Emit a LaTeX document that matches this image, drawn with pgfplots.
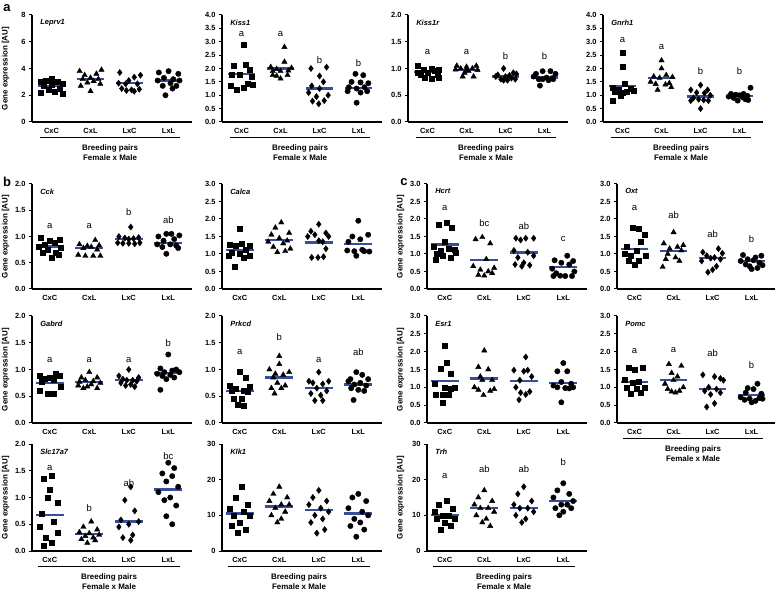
\documentclass[border=0pt]{standalone}
\usepackage{pgfplots}
\pgfplotsset{compat=1.18}
\usepackage{fontspec}
\setmainfont{Liberation Sans}
\definecolor{meanblue}{RGB}{56,78,152}
\pgfplotsset{
  gp/.style={
    scale only axis, width=160bp, anchor=south west,
    axis x line*=bottom, axis y line*=left,
    axis line style={line width=1.2pt},
    xmin=-0.45, xmax=3.6, ymin=0,
    xtick={0,1,2,3}, xticklabels={CxC,CxL,LxC,LxL},
    xtick style={draw=none},
    ytick style={line width=1pt, black},
    tick align=outside, major tick length=3bp,
    tick label style={font=\bfseries\fontsize{7.5}{8}\selectfont},
    /pgf/number format/assume math mode=true,
    yticklabel style={/pgf/number format/.cd, fixed, fixed zerofill, precision=1},
    ylabel style={at={(axis description cs:-0.165,0.5)}, anchor=center, font=\bfseries\fontsize{8}{9}\selectfont},
    clip=false,
  },
  sq/.style={only marks, mark=square*, mark size=2.5bp, black},
  tri/.style={only marks, mark=triangle*, mark size=3.1bp, black},
  dia/.style={only marks, mark=diamond*, mark size=3.1bp, black},
  cir/.style={only marks, mark=*, mark size=2.7bp, black},
  mline/.style={no markers, line width=2.2bp, meanblue},
}
\newcommand\mA[1]{\addplot[mline] coordinates {(-0.35,#1) (0.35,#1)};}
\newcommand\mB[1]{\addplot[mline] coordinates {(0.65,#1) (1.35,#1)};}
\newcommand\mC[1]{\addplot[mline] coordinates {(1.65,#1) (2.35,#1)};}
\newcommand\mD[1]{\addplot[mline] coordinates {(2.65,#1) (3.35,#1)};}
\newcommand\lt[3]{\node[font=\fontsize{9.5}{10}\selectfont] at (axis cs:#1,#2) {#3};}
\newcommand\gn[1]{\node[anchor=west, font=\bfseries\itshape\fontsize{7.5}{8}\selectfont] at (rel axis cs:0.03,0.93) {#1};}
\newcommand\bp{%
  \draw[line width=1pt] ([yshift=-15.5bp]axis cs:-0.3,0) -- ([yshift=-15.5bp]axis cs:3.3,0);
  \node[font=\bfseries\fontsize{8}{10.5}\selectfont, align=center, anchor=north] at ([yshift=-19bp]axis cs:1.5,0) {Breeding pairs\\Female x Male};
}
\begin{document}
\begin{tikzpicture}
\useasboundingbox (0,0) rectangle (778bp,592bp);
\node[font=\bfseries\fontsize{13}{13}\selectfont] at (7bp,584bp) {a};
\node[font=\bfseries\fontsize{13}{13}\selectfont] at (7bp,410bp) {b};
\node[font=\bfseries\fontsize{13}{13}\selectfont] at (404bp,410bp) {c};

% ---------- Row a ----------
\begin{axis}[gp, at={(32bp,470bp)}, height=107bp, xmin=-0.5, ymax=8, ytick={0,2,4,6,8},
  yticklabel style={/pgf/number format/precision=0}, ylabel={Gene expression [AU]}]
\addplot[sq] coordinates {(0,3.2)(-0.15,3.1)(0.15,3.0)(-0.28,3.05)(0.28,2.9)(0,2.8)(-0.2,2.75)(0.2,2.5)(-0.08,2.4)(0.08,2.3)(-0.28,2.2)(0.28,2.1)};
\addplot[tri] coordinates {(1.28,3.9)(0.72,3.8)(1.15,3.6)(0.85,3.5)(1,3.3)(0.8,3.2)(1.2,3.2)(1.08,3.05)(0.92,2.95)(1.25,2.85)(0.75,2.7)(1,2.3)};
\addplot[dia] coordinates {(1.75,3.7)(2.28,3.5)(2.12,3.35)(1.98,3.1)(1.72,2.9)(2.2,2.85)(1.9,2.85)(1.8,2.5)(2.05,2.4)(2.25,2.45)(1.92,2.35)(2.12,2.3)};
\addplot[cir] coordinates {(2.75,3.7)(3.0,3.8)(3.25,3.6)(2.88,3.3)(3.12,3.2)(3.28,3.1)(2.72,3.1)(3.05,2.9)(2.85,2.7)(3.2,2.7)(3.1,2.5)(2.92,2.0)};
\mA{2.7}\mB{3.2}\mC{2.9}\mD{3.1}
\gn{Leprv1}\bp
\end{axis}

\begin{axis}[gp, at={(222bp,470bp)}, height=107bp, xmin=-0.5, ymax=4, ytick={0,0.5,1,1.5,2,2.5,3,3.5,4}]
\addplot[sq] coordinates {(0.05,2.9)(-0.2,2.1)(0.1,2.15)(0.2,1.95)(-0.05,1.75)(-0.25,1.75)(0.25,1.7)(0.15,1.45)(-0.28,1.35)(0.05,1.3)(-0.12,1.22)(0.28,1.4)};
\addplot[tri] coordinates {(1.1,2.8)(1.1,2.25)(0.75,2.05)(1.28,2.02)(0.9,1.98)(1.2,1.92)(0.8,1.9)(1.0,1.9)(0.8,1.75)(1.18,1.75)(1.0,1.62)(0.9,1.72)};
\addplot[dia] coordinates {(1.78,2.0)(2.18,2.05)(2.0,1.72)(2.1,1.5)(1.8,1.35)(2.0,1.25)(1.72,1.1)(2.22,1.0)(1.92,0.95)(2.12,0.8)(1.82,0.78)(1.98,0.68)};
\addplot[cir] coordinates {(2.92,1.8)(3.12,1.75)(2.82,1.5)(3.05,1.48)(3.25,1.45)(2.75,1.3)(3.15,1.3)(2.95,1.25)(2.72,1.15)(3.22,1.15)(3.05,1.1)(2.95,0.72)};
\mA{1.78}\mB{2.0}\mC{1.25}\mD{1.28}
\lt{0}{3.3}{a}\lt{1}{3.3}{a}\lt{2}{2.3}{b}\lt{3}{2.2}{b}
\gn{Kiss1}\bp
\end{axis}

\begin{axis}[gp, at={(408bp,470bp)}, height=107bp, xmin=-0.5, ymax=2, ytick={0,0.5,1,1.5,2}]
\addplot[sq] coordinates {(-0.25,1.05)(0.1,1.0)(-0.1,0.98)(0.28,0.97)(0.18,0.95)(-0.25,0.93)(0,0.92)(-0.18,0.88)(0.25,0.88)(-0.08,0.82)(0.1,0.8)(0.28,0.83)};
\addplot[tri] coordinates {(0.75,1.05)(1.0,1.03)(1.25,1.05)(0.85,1.0)(1.15,1.0)(0.72,0.98)(1.28,0.97)(1.05,0.95)(0.95,0.92)(0.9,0.85)(1.18,0.85)(1.0,0.97)};
\addplot[dia] coordinates {(1.95,1.0)(2.2,0.92)(2.28,0.9)(1.8,0.88)(2.1,0.87)(2.0,0.85)(1.75,0.85)(2.15,0.82)(1.88,0.8)(2.05,0.78)(1.95,0.78)(2.25,0.8)};
\addplot[cir] coordinates {(2.95,0.95)(3.15,0.95)(2.78,0.9)(3.28,0.9)(2.72,0.85)(3.05,0.83)(3.2,0.82)(2.85,0.8)(3.1,0.78)(2.95,0.8)(2.88,0.68)(3.22,0.8)};
\mA{0.93}\mB{0.97}\mC{0.85}\mD{0.83}
\lt{0}{1.31}{a}\lt{1}{1.31}{a}\lt{2}{1.23}{b}\lt{3}{1.23}{b}
\gn{Kiss1r}\bp
\end{axis}

\begin{axis}[gp, at={(603bp,470bp)}, height=107bp, xmin=-0.5, ymax=4, ytick={0,0.5,1,1.5,2,2.5,3,3.5,4}]
\addplot[sq] coordinates {(0,2.6)(0,2.05)(0.05,1.42)(-0.25,1.3)(0.2,1.25)(-0.1,1.2)(0.1,1.15)(-0.2,1.12)(0.28,1.18)(0.0,1.1)(-0.05,1.0)(-0.25,0.8)};
\addplot[tri] coordinates {(1.0,2.3)(1.0,2.0)(1.12,1.75)(0.8,1.7)(1.28,1.68)(0.95,1.65)(0.72,1.5)(1.2,1.45)(0.85,1.42)(1.1,1.4)(1.25,1.3)(0.9,1.2)};
\addplot[dia] coordinates {(2.0,1.38)(1.75,1.2)(2.18,1.2)(1.9,1.1)(2.1,1.08)(2.25,1.0)(1.82,0.9)(1.95,0.85)(2.08,0.82)(1.75,0.8)(2.2,0.8)(2.0,0.5)};
\addplot[cir] coordinates {(3.28,1.28)(2.78,1.05)(3.1,1.05)(2.9,1.02)(3.0,1.0)(3.2,0.98)(2.72,0.95)(3.08,0.92)(2.85,0.9)(3.15,0.85)(2.95,0.8)(3.22,0.82)};
\mA{1.35}\mB{1.63}\mC{0.95}\mD{0.97}
\lt{0}{3.07}{a}\lt{1}{2.82}{a}\lt{2}{1.9}{b}\lt{3}{1.9}{b}
\gn{Gnrh1}\bp
\end{axis}

% ---------- Row b1 ----------
\begin{axis}[gp, at={(32bp,303bp)}, height=105bp, ymax=2, ytick={0,0.5,1,1.5,2}, ylabel={Gene expression [AU]}]
\addplot[sq] coordinates {(-0.22,0.97)(0.25,0.93)(0.0,0.92)(0.12,0.88)(-0.12,0.85)(-0.28,0.8)(0.28,0.78)(-0.05,0.75)(0.15,0.7)(0.22,0.65)(-0.18,0.7)(0.05,0.6)};
\addplot[tri] coordinates {(1.15,0.93)(0.75,0.85)(1.25,0.83)(0.95,0.82)(1.05,0.8)(0.85,0.78)(1.2,0.75)(0.72,0.65)(0.9,0.63)(1.1,0.63)(1.28,0.63)};
\addplot[dia] coordinates {(2.05,1.18)(1.75,1.0)(2.25,0.98)(1.9,0.97)(2.12,0.96)(2.0,0.95)(1.72,0.88)(1.85,0.87)(2.0,0.87)(2.15,0.86)(2.28,0.88)};
\addplot[cir] coordinates {(2.95,1.05)(3.08,1.05)(3.28,1.02)(2.75,1.0)(3.15,0.95)(2.88,0.92)(2.72,0.85)(3.05,0.85)(3.2,0.83)(2.85,0.8)(3.25,0.78)(2.95,0.67)};
\mA{0.81}\mB{0.78}\mC{0.95}\mD{0.87}
\lt{0}{1.2}{a}\lt{1}{1.2}{a}\lt{2}{1.46}{b}\lt{3}{1.32}{ab}
\gn{Cck}
\end{axis}

\begin{axis}[gp, at={(222bp,303bp)}, height=105bp, ymax=3, ytick={0,0.5,1,1.5,2,2.5,3}]
\addplot[sq] coordinates {(0.0,1.72)(-0.25,1.27)(0.05,1.3)(0.25,1.25)(-0.1,1.25)(0.15,1.12)(-0.2,1.05)(0.0,1.0)(-0.28,0.95)(0.25,0.95)(0.1,0.88)(-0.12,0.65)};
\addplot[tri] coordinates {(1.05,1.9)(0.9,1.75)(1.25,1.6)(0.8,1.55)(1.0,1.45)(1.2,1.38)(0.72,1.35)(1.1,1.3)(0.85,1.2)(1.28,1.15)(0.95,1.05)(1.15,1.08)};
\addplot[dia] coordinates {(2.0,1.85)(1.8,1.65)(2.18,1.6)(1.9,1.55)(2.25,1.5)(1.72,1.5)(2.1,1.35)(2.0,1.38)(2.18,1.15)(1.82,0.9)(1.98,0.9)(2.12,0.92)};
\addplot[cir] coordinates {(3.0,1.95)(3.25,1.55)(2.85,1.5)(3.05,1.42)(2.75,1.35)(2.72,1.1)(2.9,1.08)(3.15,1.08)(3.28,1.07)(3.1,1.12)(2.95,0.95)};
\mA{1.12}\mB{1.4}\mC{1.33}\mD{1.28}
\gn{Calca}
\end{axis}

\begin{axis}[gp, at={(427bp,303bp)}, height=105bp, ymax=3, ytick={0,0.5,1,1.5,2,2.5,3}, ylabel={Gene expression [AU]}]
\addplot[sq] coordinates {(0.05,1.9)(-0.15,1.85)(0.18,1.75)(0.0,1.35)(-0.28,1.2)(0.1,1.15)(0.25,1.12)(-0.1,1.1)(0.28,1.05)(-0.2,1.0)(-0.05,0.95)(0.15,0.88)(-0.22,0.85)};
\addplot[tri] coordinates {(0.95,1.48)(0.78,1.42)(1.15,1.3)(1.05,0.85)(0.72,0.65)(1.25,0.6)(0.9,0.55)(1.1,0.5)(1.2,0.45)(0.85,0.4)(1.0,0.38)};
\addplot[dia] coordinates {(1.8,1.45)(2.05,1.45)(2.25,1.45)(1.92,1.4)(1.75,1.1)(2.1,1.05)(2.25,0.95)(1.85,0.9)(2.0,0.75)(1.78,0.7)(2.15,0.68)(1.95,0.65)};
\addplot[cir] coordinates {(3.1,0.95)(2.78,0.82)(3.25,0.8)(2.95,0.75)(3.15,0.7)(2.72,0.58)(3.28,0.5)(2.82,0.45)(2.92,0.38)(3.05,0.37)(3.22,0.37)(2.75,0.37)};
\mA{1.27}\mB{0.82}\mC{1.04}\mD{0.62}
\lt{0}{2.3}{a}\lt{1}{1.88}{bc}\lt{2}{1.8}{ab}\lt{3}{1.42}{c}
\gn{Hcrt}
\end{axis}

\begin{axis}[gp, at={(617bp,303bp)}, width=158bp, height=105bp, ymax=3, ytick={0,0.5,1,1.5,2,2.5,3}]
\addplot[sq] coordinates {(-0.05,1.75)(0.1,1.72)(0.25,1.55)(0.15,1.35)(-0.2,1.2)(0.05,1.1)(-0.25,1.0)(0.28,0.95)(-0.1,0.95)(0.1,0.8)(-0.15,0.8)(0.0,0.7)};
\addplot[tri] coordinates {(1.0,1.62)(0.75,1.3)(1.25,1.25)(1.1,1.2)(0.9,1.15)(1.2,1.1)(0.85,1.0)(1.05,0.9)(0.8,0.85)(1.15,0.8)(0.72,0.63)};
\addplot[dia] coordinates {(2.15,1.15)(1.75,1.05)(2.25,1.02)(1.85,0.95)(2.05,0.9)(1.95,0.88)(2.2,0.85)(1.72,0.8)(2.1,0.65)(2.0,0.55)(1.88,0.48)};
\addplot[cir] coordinates {(2.78,0.97)(3.25,0.95)(3.1,0.9)(2.9,0.85)(3.05,0.82)(2.72,0.8)(3.2,0.75)(2.85,0.7)(3.28,0.68)(2.95,0.65)(3.15,0.6)(3.0,0.57)};
\mA{1.15}\mB{1.08}\mC{0.88}\mD{0.8}
\lt{0}{2.3}{a}\lt{1}{2.1}{ab}\lt{2}{1.56}{ab}\lt{3}{1.42}{b}
\gn{Oxt}
\end{axis}

% ---------- Row b2 ----------
\begin{axis}[gp, at={(32bp,169bp)}, height=107bp, ymax=2, ytick={0,0.5,1,1.5,2}, ylabel={Gene expression [AU]}]
\addplot[sq] coordinates {(0.15,0.93)(-0.25,0.88)(0.25,0.88)(0.0,0.85)(-0.12,0.82)(0.1,0.8)(-0.2,0.78)(0.28,0.68)(-0.25,0.6)(-0.05,0.55)(0.1,0.55)};
\addplot[tri] coordinates {(1.0,0.95)(0.8,0.85)(1.2,0.85)(0.9,0.8)(1.1,0.78)(0.75,0.77)(1.28,0.75)(1.05,0.72)(0.72,0.7)(0.95,0.68)(1.2,0.65)(0.85,0.65)};
\addplot[dia] coordinates {(2.0,1.0)(1.75,0.88)(2.25,0.85)(1.85,0.82)(2.1,0.8)(1.95,0.8)(2.2,0.78)(1.8,0.75)(2.05,0.72)(1.92,0.7)(2.15,0.68)};
\addplot[cir] coordinates {(3.0,1.28)(2.8,1.02)(3.2,1.0)(3.1,0.98)(2.9,0.95)(3.28,0.95)(2.72,0.92)(3.05,0.9)(2.85,0.88)(3.15,0.85)(2.95,0.82)(2.8,0.62)};
\mA{0.75}\mB{0.76}\mC{0.8}\mD{0.93}
\lt{0}{1.17}{a}\lt{1}{1.17}{a}\lt{2}{1.17}{a}\lt{3}{1.5}{b}
\gn{Gabrd}
\end{axis}

\begin{axis}[gp, at={(222bp,169bp)}, height=107bp, ymax=2, ytick={0,0.5,1,1.5,2}]
\addplot[sq] coordinates {(0.0,0.95)(0.15,0.85)(-0.25,0.7)(0.25,0.68)(-0.1,0.65)(0.1,0.6)(-0.2,0.6)(0.2,0.58)(-0.15,0.45)(0.05,0.45)(-0.05,0.35)(0.1,0.33)};
\addplot[tri] coordinates {(1.0,1.25)(1.0,1.1)(0.75,1.0)(1.25,0.95)(0.9,0.92)(1.1,0.9)(0.85,0.85)(0.95,0.75)(1.15,0.7)(0.8,0.65)(1.05,0.65)(0.88,0.55)};
\addplot[dia] coordinates {(2.0,0.95)(1.75,0.78)(2.25,0.78)(1.85,0.75)(2.1,0.73)(1.95,0.65)(2.2,0.6)(1.8,0.55)(2.05,0.52)(1.9,0.42)(2.1,0.42)};
\addplot[cir] coordinates {(2.95,0.95)(3.1,0.9)(2.8,0.82)(3.25,0.82)(2.75,0.78)(3.05,0.75)(2.9,0.72)(3.2,0.7)(2.82,0.65)(3.0,0.62)(3.15,0.6)(2.88,0.43)};
\mA{0.6}\mB{0.85}\mC{0.65}\mD{0.72}
\lt{0}{1.33}{a}\lt{1}{1.6}{b}\lt{2}{1.17}{a}\lt{3}{1.33}{ab}
\gn{Prkcd}
\end{axis}

\begin{axis}[gp, at={(427bp,169bp)}, height=107bp, ymax=3, ytick={0,0.5,1,1.5,2,2.5,3}, ylabel={Gene expression [AU]}]
\addplot[sq] coordinates {(0.0,2.18)(0.05,1.68)(-0.1,1.52)(0.15,1.38)(-0.25,1.1)(0.0,1.0)(0.25,0.98)(0.15,0.95)(-0.22,0.8)(-0.05,0.78)(0.1,0.78)(-0.05,0.58)};
\addplot[tri] coordinates {(1.0,2.03)(0.85,1.57)(1.1,1.5)(0.9,1.3)(1.2,1.2)(0.95,1.2)(0.75,1.0)(1.25,0.95)(0.85,0.93)(1.15,0.9)(0.98,0.78)};
\addplot[dia] coordinates {(2.05,1.85)(1.75,1.48)(2.0,1.45)(2.1,1.48)(2.2,1.3)(1.9,1.2)(1.8,1.0)(2.15,0.88)(1.92,0.85)(2.05,0.8)(1.88,0.65)};
\addplot[cir] coordinates {(3.0,1.68)(2.85,1.45)(3.1,1.45)(2.95,1.15)(3.2,1.1)(2.75,1.05)(3.25,1.0)(2.85,1.0)(3.05,0.98)(3.15,0.97)(2.95,0.58)};
\mA{1.18}\mB{1.25}\mC{1.17}\mD{1.12}
\gn{Esr1}
\end{axis}

\begin{axis}[gp, at={(617bp,169bp)}, width=158bp, height=107bp, ymax=3, ytick={0,0.5,1,1.5,2,2.5,3}]
\addplot[sq] coordinates {(-0.15,1.55)(0.0,1.5)(0.2,1.55)(-0.25,1.2)(0.1,1.15)(-0.05,1.12)(0.25,1.0)(-0.2,1.0)(0.05,0.95)(0.15,0.85)(-0.1,0.82)};
\addplot[tri] coordinates {(0.88,1.65)(1.2,1.6)(0.95,1.4)(1.1,1.3)(1.0,1.2)(0.78,1.1)(1.25,1.0)(0.85,0.95)(1.15,0.9)(0.95,0.88)(1.05,0.85)};
\addplot[dia] coordinates {(1.75,1.35)(2.05,1.3)(2.2,1.25)(2.28,1.2)(1.9,1.0)(2.1,0.95)(1.8,0.9)(2.2,0.85)(1.95,0.8)(2.05,0.55)(1.85,0.45)};
\addplot[cir] coordinates {(3.15,1.1)(2.9,0.98)(3.05,0.95)(2.85,0.85)(3.25,0.82)(2.72,0.72)(3.2,0.7)(2.95,0.68)(3.28,0.68)(2.82,0.65)(3.1,0.62)(3.0,0.58)};
\mA{1.15}\mB{1.2}\mC{0.96}\mD{0.78}
\lt{0}{2.03}{a}\lt{1}{2.05}{a}\lt{2}{1.95}{ab}\lt{3}{1.62}{b}
\gn{Pomc}\bp
\end{axis}

% ---------- Row b3 ----------
\begin{axis}[gp, at={(32bp,41bp)}, height=107bp, ymax=2, ytick={0,0.5,1,1.5,2}, ylabel={Gene expression [AU]}]
\addplot[sq] coordinates {(0.05,1.4)(-0.15,1.35)(0.0,1.15)(-0.05,1.0)(0.2,0.9)(-0.2,0.7)(0.1,0.55)(-0.25,0.45)(0.2,0.35)(-0.1,0.25)(0.05,0.15)(-0.15,0.1)};
\addplot[tri] coordinates {(1.05,0.55)(0.85,0.45)(1.2,0.4)(0.75,0.35)(1.0,0.33)(1.25,0.3)(0.9,0.28)(1.1,0.25)(0.8,0.22)(1.15,0.2)(0.95,0.15)};
\addplot[dia] coordinates {(2.05,1.2)(1.9,0.95)(2.15,0.75)(1.8,0.58)(2.25,0.55)(2.0,0.5)(1.75,0.45)(2.1,0.3)(1.85,0.25)(2.05,0.2)};
\addplot[cir] coordinates {(3.0,1.65)(3.15,1.55)(2.85,1.45)(3.1,1.4)(2.95,1.3)(3.25,1.2)(2.75,1.1)(3.05,1.0)(2.9,0.95)(3.2,0.85)(2.95,0.65)(3.1,0.5)};
\mA{0.68}\mB{0.32}\mC{0.55}\mD{1.15}
\lt{0}{1.55}{a}\lt{1}{0.8}{b}\lt{2}{1.27}{ab}\lt{3}{1.78}{bc}
\gn{Slc17a7}\bp
\end{axis}

\begin{axis}[gp, at={(222bp,41bp)}, height=107bp, ymax=30, ytick={0,10,20,30},
  yticklabel style={/pgf/number format/precision=0}]
\addplot[sq] coordinates {(0.05,18)(-0.1,15)(0.2,13)(-0.25,12)(0.1,11)(0.25,10)(-0.15,10)(0.0,8)(-0.2,7)(0.15,6)(-0.05,5)};
\addplot[tri] coordinates {(1.0,18)(0.85,16)(1.2,15)(0.75,14)(1.05,13)(1.25,13)(0.9,12)(1.15,11)(0.8,10)(1.05,9)(0.95,8)};
\addplot[dia] coordinates {(2.0,17)(1.85,15)(2.2,14)(1.75,13)(2.05,12)(2.25,11)(1.9,10)(2.1,9)(1.8,8)(2.15,6)(1.95,5)};
\addplot[cir] coordinates {(3.0,16)(2.85,15)(3.2,14)(2.75,12)(3.1,11)(3.25,10)(2.9,9)(3.05,8)(2.8,7)(3.15,6)(2.95,4)};
\mA{10.5}\mB{12.5}\mC{11.5}\mD{10.5}
\gn{Klk1}\bp
\end{axis}

\begin{axis}[gp, at={(427bp,41bp)}, height=107bp, ymax=30, ytick={0,10,20,30},
  yticklabel style={/pgf/number format/precision=0}, ylabel={Gene expression [AU]}]
\addplot[sq] coordinates {(0.05,14)(-0.15,13)(0.2,12)(-0.25,11)(0.1,10)(-0.05,10)(0.25,9)(-0.2,9)(0.0,8)(0.15,7)(-0.1,6)};
\addplot[tri] coordinates {(1.0,17)(0.85,15)(1.2,14)(0.75,13)(1.1,12)(0.9,12)(1.25,11)(0.8,10)(1.05,9)(0.95,8)(1.15,7)};
\addplot[dia] coordinates {(2.0,18)(1.85,16)(2.2,14)(1.75,13)(2.1,12)(1.9,12)(2.25,11)(1.8,10)(2.05,9)(1.95,8)};
\addplot[cir] coordinates {(3.0,19)(2.85,17)(3.15,16)(2.75,15)(3.25,14)(2.95,13)(3.1,13)(2.8,12)(3.2,12)(3.0,11)(2.9,10)};
\mA{10}\mB{12}\mC{12}\mD{14}
\lt{0}{21}{a}\lt{1}{23}{ab}\lt{2}{23}{ab}\lt{3}{25}{b}
\gn{Trh}\bp
\end{axis}
\end{tikzpicture}
\end{document}
